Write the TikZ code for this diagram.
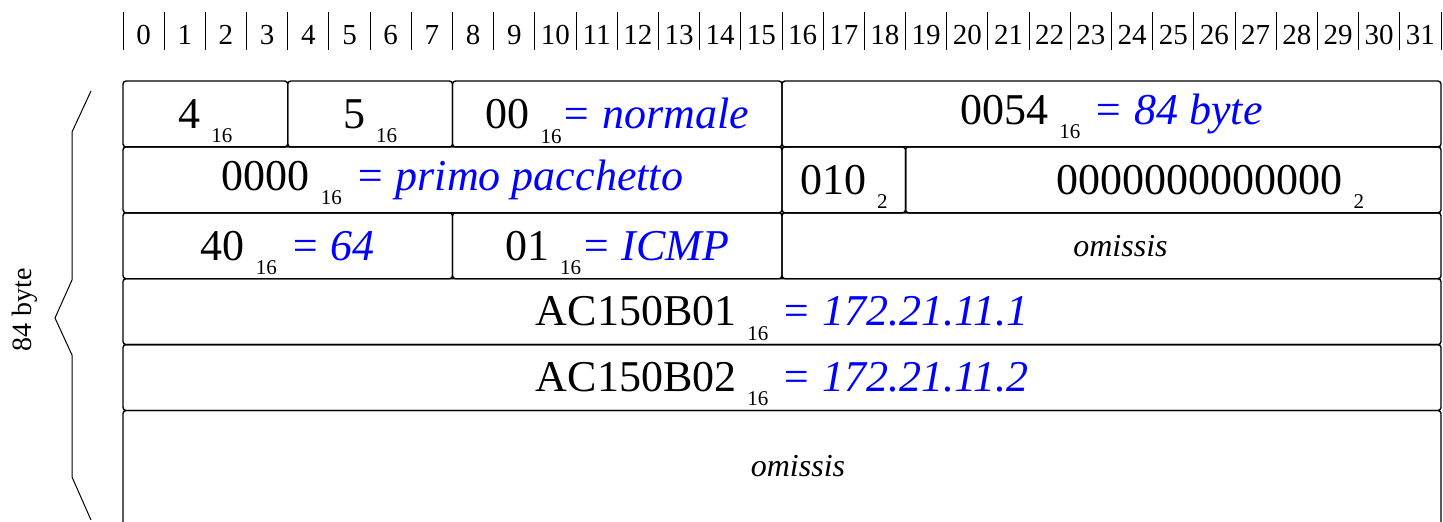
\documentclass[tikz,border=0pt]{standalone}
\usepackage{fontspec}
\setmainfont{Liberation Serif}
\usepackage{tikz}

\newcommand{\hexsub}[1]{\hspace{0.25em}\raisebox{-0.32em}[0pt][0pt]{\fontsize{21}{21}\selectfont #1}}

\tikzset{
  cell/.style={draw, line width=1.4pt, rounded corners=3pt, inner sep=0pt, minimum height=65.9pt, font=\fontsize{44}{44}\selectfont},
  bitnum/.style={inner sep=0pt, font=\fontsize{29}{29}\selectfont},
  omit/.style={inner sep=0pt, font=\fontsize{32}{32}\selectfont\itshape}
}

\begin{document}
\begin{tikzpicture}[x=1pt,y=-1pt]
\path[use as bounding box, clip] (0,0) rectangle (1443,522);

% Bit ruler
\foreach \i in {0,...,32}
  \draw[line width=1pt] (123+41.1875*\i,12) -- (123+41.1875*\i,50);
\foreach \i in {0,...,31}
  \node[bitnum] (bit\i) at (143.6+41.1875*\i,35) {\i};

% First word
\node[cell, minimum width=164.75pt] (ver) at (205.375,113.95) {4\hexsub{16}};
\node[cell, minimum width=164.75pt] (ihl) at (370.125,113.95) {5\hexsub{16}};
\node[cell, minimum width=329.5pt] (tos) at (617.25,113.95) {00\hexsub{16}{\color{blue}\itshape= normale}};
\node[cell, minimum width=659pt] (totlen) at (1111.5,113.95) {0054\hexsub{16}\hspace{0.3em}{\color{blue}\itshape= 84 byte}};

% Second word
\node[cell, minimum width=659pt] (ident) at (452.5,179.85) {0000\hexsub{16}\hspace{0.3em}{\color{blue}\itshape= primo pacchetto}};
\node[cell, minimum width=123.56pt] (flags) at (843.78,179.85) {010\hexsub{2}};
\node[cell, minimum width=535.44pt] (offset) at (1173.28,179.85) {\hspace{74pt}0000000000000\hexsub{2}};

% Third word
\node[cell, minimum width=329.5pt] (ttl) at (287.75,245.75) {40\hexsub{16}\hspace{0.3em}{\color{blue}\itshape= 64}};
\node[cell, minimum width=329.5pt] (proto) at (617.25,245.75) {01\hexsub{16}{\color{blue}\itshape= ICMP}};
\node[cell, minimum width=659pt] (chksum) at (1111.5,245.75) {\fontsize{32}{32}\selectfont\itshape\hspace{18pt}omissis};

% Addresses
\node[cell, minimum width=1318pt] (src) at (782,311.65) {AC150B01\hexsub{16}\hspace{0.3em}{\color{blue}\itshape= 172.21.11.1}};
\node[cell, minimum width=1318pt] (dst) at (782,377.55) {AC150B02\hexsub{16}\hspace{0.3em}{\color{blue}\itshape= 172.21.11.2}};

% Rest of the packet (open at the bottom)
\node[cell, minimum width=1318pt, minimum height=140pt] (data) at (782,480.5) {};
\node[omit] (dataomit) at (798,466) {omissis};

% Length brace
\draw[line width=1pt] (91,91) -- (72,132) -- (72,280) -- (55,318) -- (72,355) -- (72,477) -- (91,520);
\node[rotate=90, inner sep=0pt, font=\fontsize{28}{28}\selectfont] (len) at (25,310) {84 byte};

\end{tikzpicture}
\end{document}
